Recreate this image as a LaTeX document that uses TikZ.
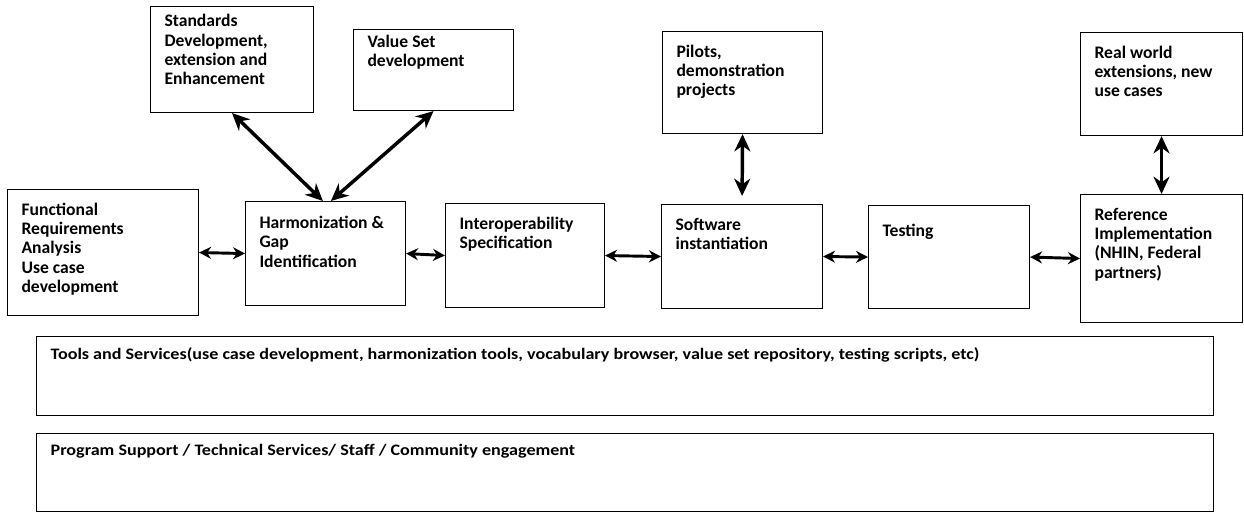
\documentclass[tikz,border=0pt]{standalone}
\usepackage{fontspec}
\setmainfont{Carlito}
\newfontfamily\barfont[FakeStretch=1.13]{Carlito}
\usetikzlibrary{arrows.meta}
\newdimen\pxu
\pxu=0.75pt
\newcommand{\bx}[4][10pt]{\parbox[t][#3\pxu][t]{#2\pxu}{\raggedright\leftskip=10.5pt\vspace*{#1}#4}}

\begin{document}
\begin{tikzpicture}[x=0.75pt, y=-0.75pt,
    blk/.style={draw, line width=0.8pt, anchor=north west, inner sep=0pt,
        font=\fontsize{13.2}{14.5}\selectfont\bfseries},
    bar/.style={blk, line width=1pt, font=\barfont\fontsize{12}{14.5}\selectfont\bfseries},
    link/.style={{Stealth[length=9pt,width=9pt]}-{Stealth[length=9pt,width=9pt]}, line width=2.2pt},
    biglink/.style={{Stealth[length=13pt,width=12pt]}-{Stealth[length=13pt,width=12pt]}, line width=2.6pt}]
    \useasboundingbox (0,0) rectangle (1244,514);
    \node[blk] (std) at (150,6) {\bx[6pt]{163}{106}{Standards\\ Development,\\ extension and\\ Enhancement}};
    \node[blk] (vs) at (353,29) {\bx[4pt]{160}{81}{Value Set\\ development}};
    \node[blk] (pil) at (662,31) {\bx{160}{102}{Pilots,\\ demonstration\\ projects}};
    \node[blk] (real) at (1080,32) {\bx{162}{103}{Real world\\ extensions, new\\ use cases}};
    \node[blk] (func) at (7,189) {\bx{191}{126}{Functional\\ Requirements\\ Analysis\\ Use case\\ development}};
    \node[blk] (harm) at (245,201) {\bx[11pt]{160}{104}{Harmonization \&\\ Gap\\ Identification}};
    \node[blk] (inter) at (445,203) {\bx{159}{104}{Interoperability\\ Specification}};
    \node[blk] (soft) at (661,204) {\bx{161}{104}{Software\\ instantiation}};
    \node[blk] (test) at (868,205) {\bx[14pt]{161}{103}{Testing}};
    \node[blk] (ref) at (1080,194) {\bx{162}{128}{Reference\\ Implementation\\ (NHIN, Federal\\ partners)}};
    \node[bar] (tools) at (36,336) {\bx[8pt]{1177}{79}{Tools and Services(use case development, harmonization tools, vocabulary browser, value set repository, testing scripts, etc)}};
    \node[bar] (prog) at (36,433) {\bx[8pt]{1177}{78}{Program Support / Technical Services/ Staff / Community engagement}};
    \draw[biglink] (std.south) -- ([xshift=-2pt]harm.north);
    \draw[biglink] (vs.south) -- ([xshift=4pt]harm.north);
    \draw[biglink, shorten >=6pt] (pil.south) -- (soft.north);
    \draw[biglink] (real.south) -- (ref.north);
    \draw[link] (func.east) -- (harm.west);
    \draw[link] (harm.east) -- (inter.west);
    \draw[link] (inter.east) -- (soft.west);
    \draw[link] (soft.east) -- (test.west);
    \draw[link] (test.east) -- (ref.west);
\end{tikzpicture}
\end{document}
